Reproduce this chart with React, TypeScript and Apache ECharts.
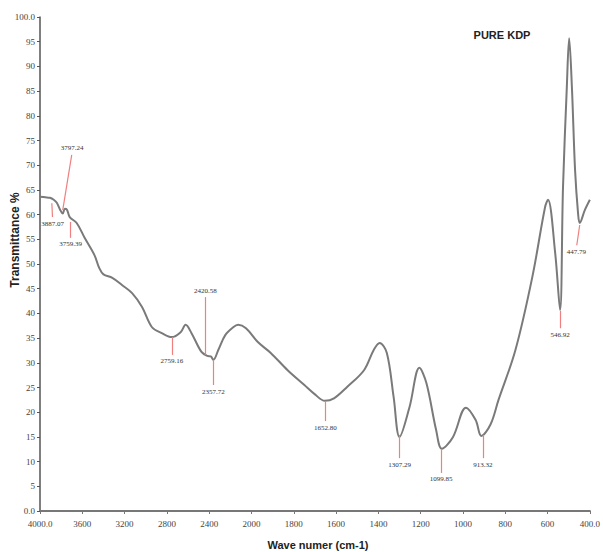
import React, { useEffect, useRef } from "react";
import * as echarts from "echarts";

// x tick labels (non-linear FTIR axis: 400 cm-1 steps above 2000, 200 below)
const xTickLabels = ["4000.0", "3600", "3200", "2800", "2400", "2000", "1800", "1600", "1400", "1200", "1000", "800", "600", "400.0"];

// spectrum: wavenumber (cm-1) and transmittance (%)
const waveNumbers = [
  4000, 3950, 3906, 3870, 3841, 3810, 3785, 3765, 3745, 3719, 3653, 3578, 3485, 3440, 3400, 3316, 3222, 3129, 3035, 2941,
  2848, 2754, 2670, 2623, 2567, 2473, 2417, 2385, 2360, 2314, 2248, 2173, 2126, 2052, 1970, 1909, 1829, 1750, 1700, 1653,
  1610, 1548, 1468, 1422, 1394, 1360, 1328, 1300, 1253, 1206, 1173, 1127, 1100, 1047, 986, 940, 913, 870, 832, 752,
  672, 612, 598, 564, 541, 527, 509, 498, 485, 470, 456, 448, 424, 400,
];
const transmittance = [
  63.6, 63.5, 63.4, 63.0, 62.4, 61.0, 60.2, 61.2, 61.0, 59.5, 58.3, 55.3, 51.8, 49.2, 47.9, 47.2, 45.7, 44.1, 41.3, 37.2,
  36.0, 35.2, 36.2, 37.7, 36.0, 32.2, 31.4, 31.3, 30.6, 32.6, 35.6, 37.2, 37.7, 37.0, 34.2, 32.0, 28.5, 25.5, 23.6, 22.3,
  22.8, 25.1, 28.5, 32.6, 34.0, 32.0, 23.1, 15.0, 21.0, 29.0, 25.9, 16.4, 12.6, 15.0, 20.9, 18.4, 15.2, 17.5, 22.5, 32.6,
  47.4, 61.5, 63.0, 52.2, 40.7, 65.6, 85.8, 95.7, 85.8, 69.0, 60.3, 58.3, 60.9, 63.0,
];

// peak annotations: label, leader line start (w, T) and end (w, T)
const peakLabels = ["3887.07", "3797.24", "3759.39", "2759.16", "2420.58", "2357.72", "1652.80", "1307.29", "1099.85", "913.32", "546.92", "447.79"];
const peakFromW = [3888, 3785, 3710, 2754, 2436, 2360, 1651, 1300, 1103, 906, 541, 448];
const peakFromT = [62.3, 60.9, 58.5, 35.2, 31.6, 30.6, 22.1, 15.4, 12.35, 15.4, 40.5, 57.9];
const peakToW = [3882, 3700, 3710, 2754, 2436, 2360, 1651, 1300, 1103, 906, 541, 462];
const peakToT = [59.5, 72.1, 55.3, 31.6, 43.3, 25.5, 18.2, 10.7, 7.7, 10.7, 37.0, 53.8];

const toU = (w: number) => (w >= 2000 ? (4000 - w) / 400 : 5 + (2000 - w) / 200);

export default function App() {
  const ref = useRef<HTMLDivElement>(null);
  useEffect(() => {
    if (!ref.current) return;
    const chart = echarts.init(ref.current, null, { renderer: "svg" });
    const lineData = waveNumbers.map((w, i) => [toU(w), transmittance[i]]);
    const markData = peakLabels.map((lab, i) => [
      { name: lab, coord: [toU(peakFromW[i]), peakFromT[i]] },
      { coord: [toU(peakToW[i]), peakToT[i]] },
    ]);
    chart.setOption({
      animation: false,
      backgroundColor: "#ffffff",
      grid: { left: 40, right: 8, top: 17, bottom: 41, containLabel: false },
      xAxis: {
        type: "value",
        min: 0,
        max: 13,
        interval: 1,
        axisLine: { lineStyle: { color: "#777", width: 2 } },
        axisTick: { show: true, length: 3, lineStyle: { color: "#777" } },
        splitLine: { show: false },
        axisLabel: {
          margin: 8,
          color: "#444",
          fontSize: 9,
          fontFamily: "Liberation Serif, DejaVu Serif, serif",
          formatter: (v: number) => xTickLabels[Math.round(v)] ?? "",
        },
      },
      yAxis: {
        type: "value",
        min: 0,
        max: 100,
        interval: 5,
        axisLine: { show: true, lineStyle: { color: "#555", width: 1.5 } },
        axisTick: { show: true, length: 3, lineStyle: { color: "#555" } },
        splitLine: { show: false },
        axisLabel: {
          margin: 5,
          color: "#444",
          fontSize: 9,
          fontFamily: "Liberation Serif, DejaVu Serif, serif",
          formatter: (v: number) => (v === 0 ? "0.0" : v === 100 ? "100.0" : String(v)),
        },
      },
      graphic: [
        {
          type: "text",
          x: 15,
          y: 240,
          rotation: Math.PI / 2,
          style: {
            text: "Transmittance %",
            fill: "#222",
            font: "bold 12px 'Liberation Sans', Arial, sans-serif",
            align: "center",
            verticalAlign: "middle",
          },
        },
        {
          type: "text",
          x: 318,
          y: 545,
          style: {
            text: "Wave numer (cm-1)",
            fill: "#222",
            font: "bold 11px 'Liberation Sans Narrow', 'Liberation Sans', Arial, sans-serif",
            align: "center",
            verticalAlign: "middle",
          },
        },
        {
          type: "text",
          x: 502,
          y: 35,
          style: {
            text: "PURE KDP",
            fill: "#222",
            font: "bold 11px 'Liberation Sans Narrow', 'Liberation Sans', Arial, sans-serif",
            align: "center",
            verticalAlign: "middle",
          },
        },
      ],
      series: [
        {
          type: "line",
          data: lineData,
          smooth: 0.35,
          symbol: "none",
          lineStyle: { color: "#7a7a7a", width: 2 },
          markLine: {
            silent: true,
            symbol: "none",
            animation: false,
            lineStyle: { color: "#f08080", width: 1.2, type: "solid" },
            label: {
              show: true,
              position: "end",
              formatter: "{b}",
              fontSize: 7,
              color: "#333",
              distance: 3,
              fontFamily: "Liberation Serif, DejaVu Serif, serif",
            },
            data: markData,
          },
        },
      ],
    });
    return () => chart.dispose();
  }, []);
  return <div ref={ref} style={{ position: "absolute", left: 0, top: 0, width: 603, height: 552 }} />;
}
